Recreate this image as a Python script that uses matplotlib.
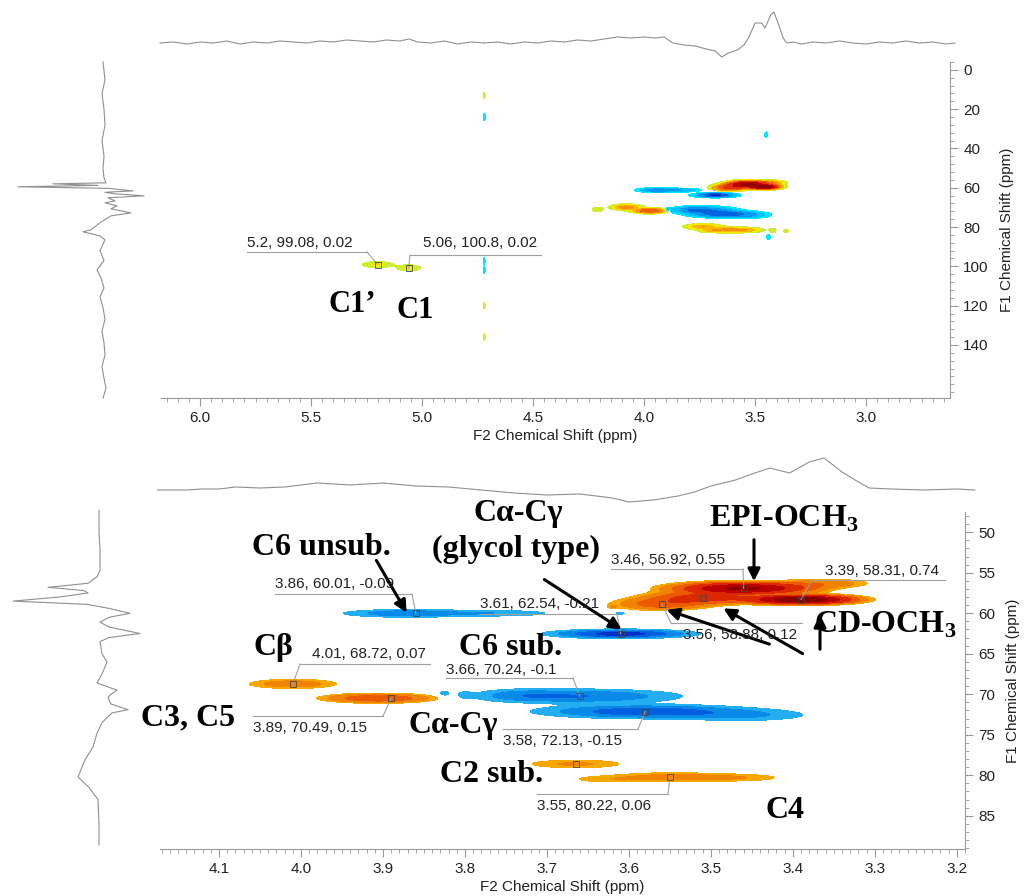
import numpy as np
import matplotlib
matplotlib.use("Agg")
import matplotlib.pyplot as plt
from matplotlib.ticker import MultipleLocator, FixedLocator, FormatStrFormatter

plt.rcParams['font.family'] = ['Liberation Sans', 'DejaVu Sans']
plt.rcParams['mathtext.fontset'] = 'custom'
plt.rcParams['mathtext.rm'] = 'Liberation Serif:bold'

W, H = 1032, 896

# ---- cross peaks: F2 (ppm), F1 (ppm), width F2, width F1, intensity
pk_f2 = [3.46, 3.36, 3.51, 3.56, 3.39,
         3.87, 3.76, 3.61,
         4.01, 3.905,
         3.66, 3.73, 3.58, 3.46,
         3.665, 3.55, 3.46, 3.635,
         5.20, 5.06,
         4.14, 3.35, 3.29, 3.37, 3.62, 3.61, 3.825, 3.80,
         4.72, 4.72, 4.72, 4.72, 4.72, 4.72, 3.45]
pk_f1 = [56.92, 56.3, 58.1, 58.88, 58.31,
         60.01, 60.0, 62.54,
         68.72, 70.49,
         70.24, 70.1, 72.13, 72.6,
         78.6, 80.22, 80.3, 80.5,
         99.08, 100.8,
         69.8, 80.5, 80.8, 83.8, 59.2, 60.0, 69.9, 70.1,
         13, 24, 97, 102, 120, 136, 33]
pk_w2 = [0.045, 0.035, 0.04, 0.035, 0.035,
         0.045, 0.045, 0.045,
         0.037, 0.04,
         0.07, 0.03, 0.07, 0.05,
         0.045, 0.05, 0.04, 0.03,
         0.045, 0.035,
         0.02, 0.012, 0.01, 0.008, 0.004, 0.01, 0.005, 0.006,
         0.004, 0.004, 0.004, 0.004, 0.004, 0.004, 0.006]
pk_w1 = [0.40, 0.35, 0.45, 0.45, 0.30,
         0.28, 0.25, 0.28,
         0.40, 0.34,
         0.50, 0.45, 0.45, 0.45,
         0.40, 0.40, 0.35, 0.30,
         0.5, 0.5,
         0.5, 0.5, 0.5, 0.5, 0.2, 0.2, 0.3, 0.3,
         0.8, 0.8, 0.8, 0.8, 0.8, 0.8, 0.6]
pk_amp = [0.55, 0.07, 0.20, 0.12, 0.74,
          -0.09, -0.045, -0.21,
          0.07, 0.15,
          -0.10, -0.04, -0.15, -0.05,
          0.05, 0.06, 0.035, 0.03,
          0.02, 0.02,
          0.012, 0.012, 0.01, -0.012, 0.03, -0.025, -0.03, -0.03,
          0.01, -0.012, -0.01, -0.01, 0.01, 0.01, -0.012]

# referencing offset of the overview spectrum (cluster 50-90 ppm only)
top_shift_f2 = 0.07
top_shift_f1 = 1.2

# ---- labelled peaks (cursor readouts)
top_lab_f2 = [5.2, 5.06]
top_lab_f1 = [99.08, 100.8]
top_lab_val = [0.02, 0.02]

bot_lab_f2 = [3.46, 3.39, 3.56, 3.86, 3.61, 4.01, 3.89, 3.66, 3.58, 3.55]
bot_lab_f1 = [56.92, 58.31, 58.88, 60.01, 62.54, 68.72, 70.49, 70.24, 72.13, 80.22]
bot_lab_val = [0.55, 0.74, 0.12, -0.09, -0.21, 0.07, 0.15, -0.1, -0.15, 0.06]
extra_box_f2 = [3.51, 3.665]
extra_box_f1 = [58.1, 78.6]

# ---- 1D projections
top_proj_ppm = [6.18, 6.12, 6.06, 6.0, 5.94, 5.88, 5.82, 5.76, 5.70, 5.64, 5.58, 5.52, 5.46,
                5.40, 5.34, 5.28, 5.22, 5.16, 5.10, 5.06, 5.02, 4.96, 4.90, 4.84, 4.78,
                4.72, 4.66, 4.60, 4.54, 4.48, 4.42, 4.36, 4.30, 4.24, 4.18, 4.12, 4.06,
                4.00, 3.95, 3.91, 3.87, 3.82, 3.77, 3.72, 3.68, 3.65, 3.62, 3.58, 3.55,
                3.53, 3.50, 3.47, 3.455, 3.43, 3.415, 3.40, 3.39, 3.375, 3.365, 3.355,
                3.33, 3.29, 3.24, 3.18, 3.12, 3.06, 3.00, 2.94, 2.88, 2.82, 2.76, 2.70, 2.64, 2.60]
top_proj_int = [0, 1, -1, 1, 0, 2, -1, 1, 0, 2, 1, 0, 2,
                1, 3, 2, 1, 3, 2, 4, 1, 0, 2, -1, 1,
                0, 1, -1, 1, 0, 2, 1, 3, 2, 4, 6, 5,
                6, 5, 6, 0, -2, -3, -6, -8, -14, -10, -7, -2,
                5, 20, 20, 15, 28, 31, 22, 16, 6, 2, 0,
                1, -1, 1, 0, 2, 0, -1, 1, 0, 2, 0, 1, -1, 0]

top_side_ppm = [-4, 5, 12, 20, 28, 36, 44, 50, 55, 57.5, 58.0, 58.8, 59.5, 60.3, 61.6,
                62.3, 63.1, 64.1, 65.1, 66.7, 67.7, 69.2, 70.7, 72.8, 74.3, 77.4, 81.4,
                82.4, 84.5, 86.5, 92, 97, 101.8, 106, 111, 115.5, 121, 127, 133, 139,
                145, 151, 157, 162, 167]
top_side_int = [0, 2, -1, 1, 2, -1, 1, 0, 1, 3, -50, -5, -85, 5, 30,
                2, 12, 41, 5, 12, 2, 14, 8, 28, 8, -2, -12,
                -20, -3, 2, -3, 1, -6, -2, 1, -3, 0, 2, -1, 1,
                2, -1, 1, 3, 0]

bot_proj_ppm = [4.175, 4.14, 4.12, 4.10, 4.08, 4.05, 4.02, 3.98, 3.94, 3.90, 3.86, 3.82,
                3.78, 3.74, 3.70, 3.66, 3.62, 3.60, 3.57, 3.54, 3.52, 3.50, 3.47, 3.45,
                3.428, 3.404, 3.38, 3.362, 3.34, 3.324, 3.307, 3.28, 3.24, 3.20, 3.178]
bot_proj_int = [0, 0, 1, 1, 3, 2, 3, 7, 5, 7, 4, 3,
                0, -3, -5, -4, -8, -12, -10, -6, -2, 4, 10, 16,
                22, 17, 28, 32, 18, 10, 2, 1, 0, 1, 0]

bot_side_ppm = [47.3, 50, 52, 54.7, 55.5, 56.3, 56.8, 57.2, 57.5, 58.0, 58.5, 58.9,
                59.4, 60.0, 60.5, 61.1, 61.7, 62.5, 63.0, 63.5, 65.0, 66.0, 67.5, 68.6,
                69.5, 70.0, 70.4, 71.2, 71.9, 72.3, 73.5, 74.8, 76.5, 78.1, 80.2, 81.5,
                83.0, 86.0, 88.6]
bot_side_int = [0, 0, 1, 1, -2, -11, -51, -15, -11, -40, -86, -12,
                10, 31, 10, 1, 10, 41, 10, 1, 3, 8, 3, -2,
                18, 12, 9, 12, 29, 13, 3, -2, -6, -14, -21, -10,
                -1, 0, 0]


def field(X, Y, w1_scale=1.0, shift=False):
    Z = np.zeros_like(X)
    for f2, f1, w2, w1, a in zip(pk_f2, pk_f1, pk_w2, pk_w1, pk_amp):
        if shift and 50 < f1 < 90:
            f2 = f2 + top_shift_f2
            f1 = f1 + top_shift_f1
        Z += a * np.exp(-0.5 * (((X - f2) / w2) ** 2 + ((Y - f1) / (w1 * w1_scale)) ** 2))
    return Z


def box(x0, y0, x1, y1):
    # pixel box (from top-left) -> figure fraction rect
    return [x0 / W, 1 - y1 / H, (x1 - x0) / W, (y1 - y0) / H]


def style_axis(ax):
    for s in ['top', 'left']:
        ax.spines[s].set_visible(False)
    for s in ['bottom', 'right']:
        ax.spines[s].set_color('#999999')
        ax.spines[s].set_linewidth(0.8)
    ax.yaxis.tick_right()
    ax.yaxis.set_label_position('right')
    ax.tick_params(which='major', direction='out', length=6, width=0.8, color='#999999',
                   labelsize=11, labelcolor='#222222')
    ax.tick_params(which='minor', direction='out', length=3, width=0.6, color='#999999')
    ax.set_xlabel('F2 Chemical Shift (ppm)', fontsize=11, color='#222222', labelpad=3)
    ax.set_ylabel('F1 Chemical Shift (ppm)', fontsize=11, color='#222222', labelpad=8)


def to_data(ax, x, y):
    return ax.transData.inverted().transform((x, H - y))


def readout(ax, f2, f1, val, tx, ty, lx0, lx1, ly, elbow):
    fig.text(tx / W, 1 - ty / H, '%g, %g, %g' % (f2, f1, val), fontsize=11,
             color='#222222', ha='left', va='baseline')
    a = to_data(ax, lx0, ly)
    b = to_data(ax, lx1, ly)
    e = to_data(ax, elbow, ly)
    ax.plot([a[0], b[0]], [a[1], b[1]], color='#a0a0a0', lw=0.8, clip_on=False, zorder=5)
    ax.plot([e[0], f2], [e[1], f1], color='#a0a0a0', lw=0.8, clip_on=False, zorder=5)
    ax.plot(f2, f1, marker='s', ms=4, mfc='none', mec='#444444', mew=0.6, zorder=6)


def bold_label(s, x, y, size=23):
    fig.text(x / W, 1 - y / H, s, fontsize=size, fontweight='bold', family='Liberation Serif',
             ha='center', va='baseline', color='black')


def arrow(x0, y0, x1, y1):
    fig.add_artist(matplotlib.patches.FancyArrowPatch(
        (x0 / W, 1 - y0 / H), (x1 / W, 1 - y1 / H), transform=fig.transFigure,
        arrowstyle='-|>', mutation_scale=18, lw=2.2, color='black'))


fig = plt.figure(figsize=(W / 100, H / 100), dpi=100)

pos_cols_top = ['#ccee30', '#f8e800', '#f8b800', '#f59000', '#ee6000', '#e03000', '#c00000', '#8c0000']
pos_lv_top = [0.006, 0.016, 0.03, 0.05, 0.09, 0.16, 0.3, 0.5, 10]
neg_cols_top = ['#00e8ff', '#00c0f8', '#0098f0', '#0064e0', '#0030c0']
neg_lv_top = [0.006, 0.02, 0.05, 0.1, 0.18, 10]

pos_cols_bot = ['#f6a800', '#f08400', '#ec5a00', '#dc2800', '#bb0000', '#8a0000']
pos_lv_bot = [0.025, 0.045, 0.09, 0.16, 0.3, 0.5, 10]
neg_cols_bot = ['#22aef0', '#0a8ae8', '#0060e0', '#0030c8']
neg_lv_bot = [0.02, 0.05, 0.1, 0.17, 10]

# ================= top panel =================
ax1 = fig.add_axes(box(161, 62, 950, 398))
xs = np.arange(2.60, 6.20, 0.0025)
ys = np.arange(-5, 168, 0.2)
X, Y = np.meshgrid(xs, ys)
Z = field(X, Y, w1_scale=2.0, shift=True)
ax1.contourf(X, Y, Z, levels=pos_lv_top, colors=pos_cols_top)
ax1.contourf(X, Y, -Z, levels=neg_lv_top, colors=neg_cols_top)
ax1.set_xlim(6.176, 2.622)
ax1.set_ylim(167, -4)
ax1.xaxis.set_major_locator(MultipleLocator(0.5))
ax1.xaxis.set_minor_locator(MultipleLocator(0.05))
ax1.xaxis.set_major_formatter(FormatStrFormatter('%.1f'))
ax1.yaxis.set_major_locator(FixedLocator([0, 20, 40, 60, 80, 100, 120, 140]))
ax1.yaxis.set_minor_locator(MultipleLocator(4))
style_axis(ax1)

t1 = fig.add_axes(box(161, 5, 950, 60))
t1.plot(top_proj_ppm, top_proj_int, color='#909090', lw=0.8, clip_on=False)
t1.set_xlim(6.176, 2.622)
t1.set_ylim(-17, 38)
t1.axis('off')

s1 = fig.add_axes(box(0, 62, 160, 398))
s1.plot(top_side_int, top_side_ppm, color='#909090', lw=0.8, clip_on=False)
s1.set_xlim(-103, 57)
s1.set_ylim(167, -4)
s1.axis('off')

top_text = [(247, 247, 247, 367, 252, 367), (423, 247, 410, 541, 255, 410)]
for i in range(len(top_lab_f2)):
    tx, ty, lx0, lx1, ly, el = top_text[i]
    readout(ax1, top_lab_f2[i], top_lab_f1[i], top_lab_val[i], tx, ty, lx0, lx1, ly, el)

bold_label('C1\u2019', 352, 312, 22)
bold_label('C1', 415, 318, 22)

# ================= bottom panel =================
ax2 = fig.add_axes(box(160, 512, 965, 849))
xs = np.arange(3.18, 4.18, 0.002)
ys = np.arange(47, 90, 0.08)
X, Y = np.meshgrid(xs, ys)
Z = field(X, Y)
ax2.contourf(X, Y, Z, levels=pos_lv_bot, colors=pos_cols_bot)
ax2.contourf(X, Y, -Z, levels=neg_lv_bot, colors=neg_cols_bot)
ax2.set_xlim(4.172, 3.190)
ax2.set_ylim(89.1, 47.5)
ax2.xaxis.set_major_locator(MultipleLocator(0.1))
ax2.xaxis.set_minor_locator(MultipleLocator(0.01))
ax2.xaxis.set_major_formatter(FormatStrFormatter('%.1f'))
ax2.yaxis.set_major_locator(MultipleLocator(5))
ax2.yaxis.set_minor_locator(MultipleLocator(1))
style_axis(ax2)

t2 = fig.add_axes(box(160, 445, 965, 505))
t2.plot(bot_proj_ppm, bot_proj_int, color='#909090', lw=0.8, clip_on=False)
t2.set_xlim(4.172, 3.190)
t2.set_ylim(-15, 45)
t2.axis('off')

s2 = fig.add_axes(box(0, 512, 160, 849))
s2.plot(bot_side_int, bot_side_ppm, color='#909090', lw=0.8, clip_on=False)
s2.set_xlim(-99, 61)
s2.set_ylim(89.1, 47.5)
s2.axis('off')

bot_text = [(611, 564, 611, 743, 569, 743),
            (825, 575, 812, 945, 580, 812),
            (683, 639, 671, 802, 623, 671),
            (275, 588, 275, 412, 594, 412),
            (480, 608, 480, 617, 614, 617),
            (312, 658, 300, 430, 664, 300),
            (253, 732, 253, 383, 716, 383),
            (446, 674, 446, 573, 678, 573),
            (503, 745, 503, 638, 729, 638),
            (537, 810, 537, 668, 794, 668)]
for i in range(len(bot_lab_f2)):
    tx, ty, lx0, lx1, ly, el = bot_text[i]
    readout(ax2, bot_lab_f2[i], bot_lab_f1[i], bot_lab_val[i], tx, ty, lx0, lx1, ly, el)
for f2, f1 in zip(extra_box_f2, extra_box_f1):
    ax2.plot(f2, f1, marker='s', ms=4, mfc='none', mec='#444444', mew=0.6, zorder=6)

bold_label('C\u03b1-C\u03b3', 518, 521)
bold_label('(glycol type)', 516, 557)
bold_label('EPI-OCH$_3$', 784, 527)
bold_label('C6 unsub.', 321, 555)
bold_label('C6 sub.', 511, 655)
bold_label('C\u03b2', 273, 655)
bold_label('C3, C5', 188, 725)
bold_label('C\u03b1-C\u03b3', 453, 733)
bold_label('C2 sub.', 492, 782)
bold_label('C4', 785, 818)
bold_label('CD-OCH$_3$', 885, 633)

arrow(754, 537, 754, 584)
arrow(375, 558, 408, 615)
arrow(542, 578, 624, 631)
arrow(772, 645, 664, 609)
arrow(805, 655, 721, 607)
arrow(820, 652, 820, 612)

fig.savefig('out.png', dpi=100, facecolor='white')
